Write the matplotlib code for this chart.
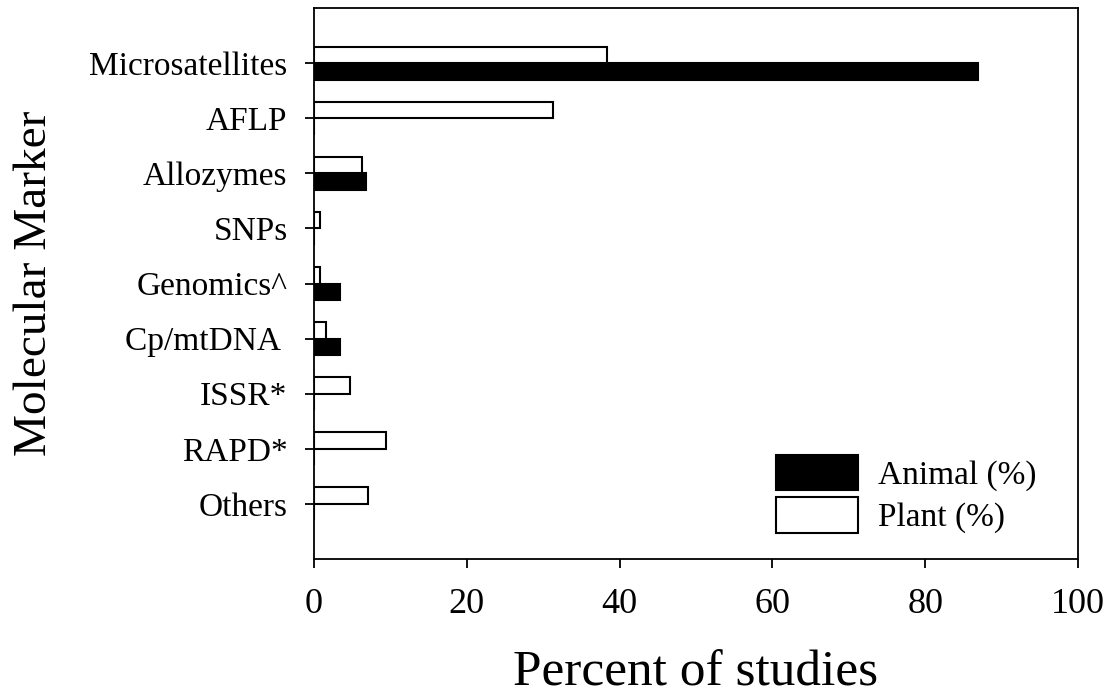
import matplotlib
matplotlib.use("Agg")
import matplotlib.pyplot as plt
import numpy as np

categories = ["Microsatellites", "AFLP", "Allozymes", "SNPs", "Genomics^",
              "Cp/mtDNA ", "ISSR*", "RAPD*", "Others"]
animal = [86.9, 0, 6.8, 0, 3.4, 3.4, 0, 0, 0]
plant = [38.4, 31.3, 6.3, 0.8, 0.8, 1.6, 4.7, 9.4, 7.1]
xticks = [0, 20, 40, 60, 80, 100]

plt.rcParams['font.family'] = ['Liberation Serif', 'DejaVu Serif']

fig = plt.figure(figsize=(11.15, 6.98), dpi=100)
ax = fig.add_axes([0.2816, 0.1991, 0.6852, 0.7894])

n = len(categories)
pos = np.arange(n)[::-1]
h = 0.3
ax.barh(pos - h / 2, animal, height=h,
        color='black', edgecolor='black', linewidth=1.5, label='Animal (%)')
ax.barh(pos + h / 2, plant, height=h, color='white', edgecolor='black',
        linewidth=1.5, label='Plant (%)')

ax.set_ylim(-1, n)
ax.set_xlim(0, 100)
ax.set_yticks(pos)
ax.set_yticklabels(categories, fontsize=24)
ax.set_xticks(xticks)
ax.set_xticklabels([str(v) for v in xticks], fontsize=26)
ax.tick_params(axis='both', direction='out', length=6.5, width=1.3)
ax.tick_params(axis='x', pad=14)
ax.tick_params(axis='y', pad=12.5)
ax.tick_params(top=False, right=False)
for s in ax.spines.values():
    s.set_linewidth(1.3)

ax.set_xlabel("Percent of studies", fontsize=37, labelpad=21)
ax.set_ylabel("Molecular Marker", fontsize=34, labelpad=24)

handles, labels = ax.get_legend_handles_labels()
ax.legend(handles, labels, loc='lower right', bbox_to_anchor=(0.985, -0.008),
          fontsize=24, frameon=False, handlelength=2.45, handleheight=1.25,
          handletextpad=0.6, labelspacing=0.2)

fig.savefig("out.png", dpi=100)
